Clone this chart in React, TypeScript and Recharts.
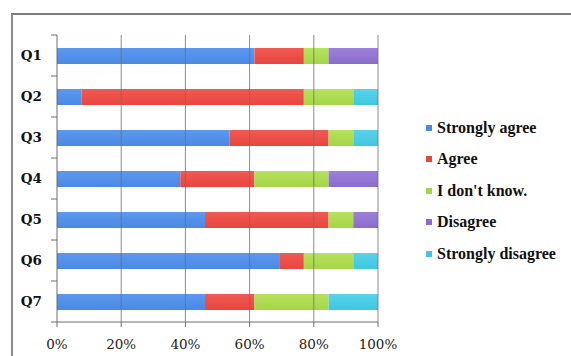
import { BarChart, Bar, XAxis, YAxis, ReferenceLine, Legend } from "recharts";

const questions = ["Q1", "Q2", "Q3", "Q4", "Q5", "Q6", "Q7"];
const stronglyAgree = [61.5, 7.7, 53.8, 38.4, 46.1, 69.2, 46.1];
const agree = [15.4, 69.2, 30.8, 23.1, 38.5, 7.7, 15.4];
const dontKnow = [7.7, 15.4, 7.7, 23.1, 7.7, 15.4, 23.1];
const disagree = [15.4, 0, 0, 15.4, 7.7, 0, 0];
const stronglyDisagree = [0, 7.7, 7.7, 0, 0, 7.7, 15.4];
const xTicks = [0, 20, 40, 60, 80, 100];

const series = [
  { key: "sa", name: "Strongly agree", color: "#4a89e4", light: "#5c98ee", values: stronglyAgree },
  { key: "a", name: "Agree", color: "#e8463f", light: "#f05a52", values: agree },
  { key: "dk", name: "I don't know.", color: "#a5d548", light: "#b6e25c", values: dontKnow },
  { key: "d", name: "Disagree", color: "#8b6ccd", light: "#9d80da", values: disagree },
  { key: "sd", name: "Strongly disagree", color: "#40c6e1", light: "#58d3ea", values: stronglyDisagree },
];

const data = questions.map((q, i) => {
  const row: Record<string, string | number> = { q };
  series.forEach((s) => {
    row[s.key] = s.values[i];
  });
  return row;
});

const AXIS = "#6f6f6f";
const SERIF = "'DejaVu Serif', serif";
const TIMES = "'Liberation Serif', 'Times New Roman', Times, 'DejaVu Serif', serif";

function QuestionTick(props: any) {
  const { x, y, payload, index } = props;
  const half = payload?.offset ?? 20.5;
  const ax = x + 15;
  return (
    <g>
      {index === 0 && <line x1={ax - 6} x2={ax} y1={y - half} y2={y - half} stroke={AXIS} />}
      <line x1={ax - 6} x2={ax} y1={y + half} y2={y + half} stroke={AXIS} />
      <text x={x} y={y} dy="0.35em" textAnchor="end" style={{ fontFamily: SERIF }} fontWeight="bold" fontSize={13.5} fill="#111">
        {payload.value}
      </text>
    </g>
  );
}

function PercentTick(props: any) {
  const { x, y, payload } = props;
  return (
    <text x={x} y={y} dy="0.75em" textAnchor="middle" style={{ fontFamily: SERIF }} fontSize={13.5} fill="#222">
      {`${payload.value}%`}
    </text>
  );
}

function LegendBox() {
  return (
    <div style={{ fontFamily: TIMES, fontWeight: 700, fontSize: 16, color: "#111" }}>
      {series.map((s) => (
        <div key={s.key} style={{ height: 31.5, display: "flex", alignItems: "center" }}>
          <span
            style={{
              display: "inline-block",
              width: 6,
              height: 6,
              marginRight: 5,
              background: s.color,
            }}
          />
          <span style={{ fontFamily: TIMES }}>{s.name}</span>
        </div>
      ))}
    </div>
  );
}

export default function App() {
  return (
    <div style={{ position: "absolute", left: 0, top: 0, width: 571, height: 356, background: "#fff", overflow: "hidden" }}>
      <div
        style={{
          position: "absolute",
          left: 11,
          top: 13,
          width: 571,
          height: 356,
          borderTop: "2px solid #7a7a7a",
          borderLeft: "2px solid #8a8a8a",
        }}
      />
      <div style={{ position: "absolute", left: 0, top: 0 }}>
        <BarChart
          width={571}
          height={356}
          data={data}
          layout="vertical"
          margin={{ top: 35, right: 193, bottom: 0, left: 0 }}
        >
          <defs>
            {series.map((s) => (
              <linearGradient key={s.key} id={`g-${s.key}`} x1="0" y1="0" x2="0" y2="1">
                <stop offset="0%" stopColor={s.light} />
                <stop offset="100%" stopColor={s.color} />
              </linearGradient>
            ))}
          </defs>
          <XAxis
            type="number"
            domain={[0, 100]}
            ticks={xTicks}
            height={34}
            tickSize={5}
            tickMargin={12}
            axisLine={{ stroke: AXIS }}
            tickLine={{ stroke: AXIS }}
            tick={<PercentTick />}
            interval={0}
          />
          <YAxis
            type="category"
            dataKey="q"
            width={57}
            tickSize={6}
            tickMargin={9}
            tickLine={false}
            axisLine={{ stroke: AXIS }}
            tick={<QuestionTick />}
            interval={0}
          />
          {series.map((s) => (
            <Bar
              key={s.key}
              dataKey={s.key}
              name={s.name}
              stackId="a"
              fill={`url(#g-${s.key})`}
              barSize={16}
              isAnimationActive={false}
            />
          ))}
          {xTicks.slice(1).map((t) => (
            <ReferenceLine key={t} x={t} stroke={AXIS} strokeOpacity={0.8} />
          ))}
          <Legend
            layout="vertical"
            align="center"
            verticalAlign="middle"
            content={<LegendBox />}
            wrapperStyle={{ left: 426, top: 112, width: 150 }}
          />
        </BarChart>
      </div>
    </div>
  );
}
